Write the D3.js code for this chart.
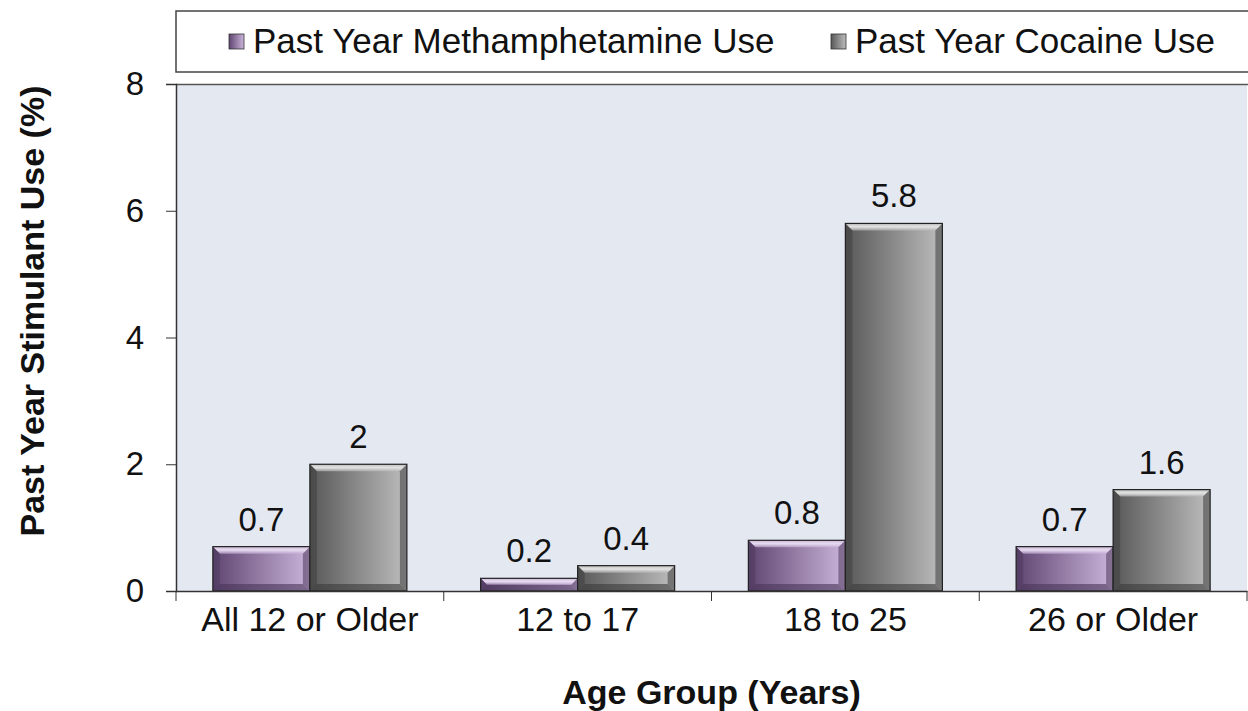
<!doctype html>
<html>
<head>
<meta charset="utf-8">
<script src="https://cdn.jsdelivr.net/npm/d3@7"></script>
<style>
  body { margin: 0; background: #fff; }
  text { font-family: "Liberation Sans", Arial, sans-serif; }
</style>
</head>
<body>
<script>
// data
const ageGroups = ['All 12 or Older', '12 to 17', '18 to 25', '26 or Older']
const seriesNames = ['Past Year Methamphetamine Use', 'Past Year Cocaine Use']
const methValues = [0.7, 0.2, 0.8, 0.7]
const cocaineValues = [2, 0.4, 5.8, 1.6]
const yTicks = [0, 2, 4, 6, 8]

const w = 1248
const h = 711
const plotLeft = 176
const plotRight = 1247
const plotTop = 84
const plotBottom = 591

const svg = d3.select('body').append('svg')
  .attr('width', w)
  .attr('height', h)

// gradients for the bevelled bars
const defs = svg.append('defs')
const palettes = [
  { id: 'meth', dark: '#5f4571', light: '#cbb5db', hi: '#e8ddf0', edge: '#4a3558' },
  { id: 'coc', dark: '#585858', light: '#bdbdbd', hi: '#e4e4e4', edge: '#3a3a3a' }
]
palettes.forEach(p => {
  const g = defs.append('linearGradient').attr('id', 'g-' + p.id)
    .attr('x1', '0%').attr('x2', '100%').attr('y1', '0%').attr('y2', '0%')
  g.append('stop').attr('offset', '0%').attr('stop-color', p.dark)
  g.append('stop').attr('offset', '100%').attr('stop-color', p.light)
  const t = defs.append('linearGradient').attr('id', 't-' + p.id)
    .attr('x1', '0%').attr('x2', '0%').attr('y1', '0%').attr('y2', '100%')
  t.append('stop').attr('offset', '0%').attr('stop-color', p.light)
  t.append('stop').attr('offset', '50%').attr('stop-color', p.hi)
  t.append('stop').attr('offset', '100%').attr('stop-color', p.light).attr('stop-opacity', 0.6)
})

const x0 = d3.scaleBand().domain(ageGroups).range([plotLeft, plotRight]).padding(0)
const x1 = d3.scaleBand().domain(seriesNames).range([0, x0.bandwidth()])
  .paddingInner(0).paddingOuter(0.38)
const y = d3.scaleLinear().domain([0, 8]).range([plotBottom, plotTop])

// plot background
svg.append('rect')
  .attr('x', plotLeft).attr('y', plotTop)
  .attr('width', plotRight - plotLeft).attr('height', plotBottom - plotTop)
  .attr('fill', '#e4e8f1')
svg.append('line')
  .attr('x1', plotLeft).attr('x2', plotRight + 2).attr('y1', plotTop + 0.5).attr('y2', plotTop + 0.5)
  .attr('stroke', '#555').attr('stroke-width', 1.5)

// bars
const rows = []
ageGroups.forEach((a, i) => {
  rows.push({ group: a, s: seriesNames[0], v: methValues[i], p: palettes[0] })
  rows.push({ group: a, s: seriesNames[1], v: cocaineValues[i], p: palettes[1] })
})

const bars = svg.append('g').selectAll('g')
  .data(rows)
  .enter()
  .append('g')

bars.each(function (d) {
  const g = d3.select(this)
  const bx = x0(d.group) + x1(d.s)
  const bw = x1.bandwidth()
  const by = y(d.v)
  const bh = y(0) - by
  const b = Math.min(7, bh / 2)
  g.append('rect')
    .attr('x', bx).attr('y', by).attr('width', bw).attr('height', bh)
    .attr('fill', 'url(#g-' + d.p.id + ')')
  // top bevel
  g.append('polygon')
    .attr('points', [[bx, by], [bx + bw, by], [bx + bw - b, by + b], [bx + b, by + b]].join(' '))
    .attr('fill', 'url(#t-' + d.p.id + ')')
  // left bevel
  g.append('polygon')
    .attr('points', [[bx, by], [bx + b, by + b], [bx + b, by + bh - b], [bx, by + bh]].join(' '))
    .attr('fill', d.p.edge).attr('opacity', 0.45)
  // right bevel
  g.append('polygon')
    .attr('points', [[bx + bw, by], [bx + bw, by + bh], [bx + bw - b, by + bh - b], [bx + bw - b, by + b]].join(' '))
    .attr('fill', d.p.edge).attr('opacity', 0.55)
  // bottom bevel
  g.append('polygon')
    .attr('points', [[bx, by + bh], [bx + b, by + bh - b], [bx + bw - b, by + bh - b], [bx + bw, by + bh]].join(' '))
    .attr('fill', d.p.edge).attr('opacity', 0.6)
  g.append('rect')
    .attr('x', bx).attr('y', by).attr('width', bw).attr('height', bh)
    .attr('fill', 'none').attr('stroke', '#222').attr('stroke-width', 1.2)
  g.append('text')
    .attr('x', bx + bw / 2)
    .attr('y', by - 16)
    .attr('text-anchor', 'middle')
    .attr('font-size', '33px')
    .attr('fill', '#111')
    .text(d.v)
})

// axes
const yAxis = svg.append('g')
  .attr('transform', 'translate(' + plotLeft + ',0)')
  .call(d3.axisLeft(y).tickValues(yTicks).tickSize(10).tickPadding(22))
yAxis.select('.domain').attr('stroke', '#333').attr('stroke-width', 1.5)
yAxis.selectAll('.tick line').attr('stroke', '#333')
yAxis.selectAll('text').attr('font-size', '33px').attr('fill', '#111')
  .attr('font-family', '"Liberation Sans", Arial, sans-serif')

const xAxis = svg.append('g')
  .attr('transform', 'translate(0,' + plotBottom + ')')
  .call(d3.axisBottom(x0).tickSize(0).tickPadding(16))
xAxis.select('.domain').attr('stroke', '#333').attr('stroke-width', 1.5)
xAxis.selectAll('text').attr('font-size', '34px').attr('fill', '#111')
  .attr('font-family', '"Liberation Sans", Arial, sans-serif')
  .attr('dy', '0.72em')
// tick marks between the groups
svg.append('g').selectAll('line')
  .data(ageGroups.concat(['end']))
  .enter()
  .append('line')
  .attr('x1', (d, i) => plotLeft + i * x0.step())
  .attr('x2', (d, i) => plotLeft + i * x0.step())
  .attr('y1', plotBottom)
  .attr('y2', plotBottom + 10)
  .attr('stroke', '#333')

// axis titles
svg.append('text')
  .attr('x', (plotLeft + plotRight) / 2)
  .attr('y', 704)
  .attr('text-anchor', 'middle')
  .attr('font-size', '34px')
  .attr('font-weight', 'bold')
  .attr('fill', '#111')
  .text('Age Group (Years)')
svg.append('text')
  .attr('transform', 'translate(44,311) rotate(-90)')
  .attr('text-anchor', 'middle')
  .attr('font-size', '34px')
  .attr('font-weight', 'bold')
  .attr('fill', '#111')
  .text('Past Year Stimulant Use (%)')

// legend
svg.append('rect')
  .attr('x', plotLeft).attr('y', 11)
  .attr('width', plotRight - plotLeft + 10).attr('height', 61)
  .attr('fill', '#fff').attr('stroke', '#444').attr('stroke-width', 1.5)
const legendX = [229, 831]
const leg = svg.append('g').selectAll('g')
  .data(seriesNames)
  .enter()
  .append('g')
  .attr('transform', (d, i) => 'translate(' + legendX[i] + ',34)')
leg.append('rect')
  .attr('width', 15).attr('height', 15)
  .attr('fill', (d, i) => 'url(#g-' + palettes[i].id + ')')
  .attr('stroke', '#333').attr('stroke-width', 0.8)
leg.append('text')
  .attr('x', 24)
  .attr('y', 19)
  .attr('font-size', '35px')
  .attr('fill', '#111')
  .text(d => d)
</script>
</body>
</html>
